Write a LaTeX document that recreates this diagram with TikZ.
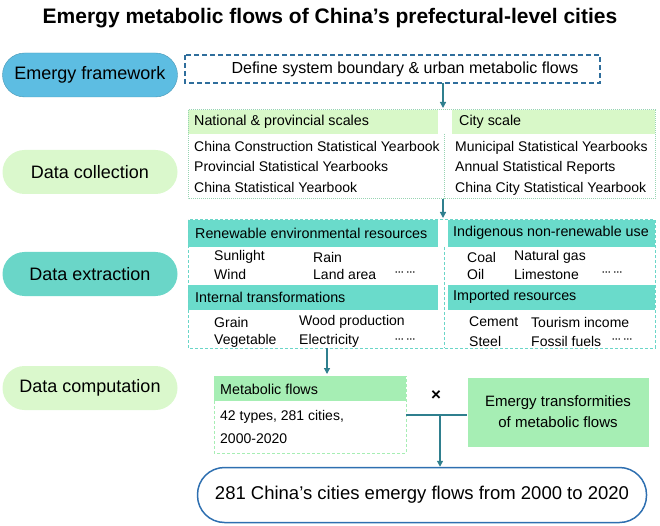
\documentclass[tikz,border=0pt]{standalone}
\usepackage{fontspec}
\setmainfont{Liberation Sans}
\usetikzlibrary{arrows.meta}
\definecolor{pillblue}{HTML}{5DBDE2}
\definecolor{pillgreen}{HTML}{DAF8CC}
\definecolor{pillteal}{HTML}{6AD6C8}
\definecolor{headteal}{HTML}{6ADBCB}
\definecolor{headgreen}{HTML}{D8F8C8}
\definecolor{boxgreen}{HTML}{A6EEB4}
\definecolor{linkteal}{HTML}{2F7F8E}
\definecolor{dashblue}{HTML}{2F6E9C}
\definecolor{ringblue}{HTML}{2E6FB0}
\tikzset{
  pill/.style={rounded corners=22pt,minimum width=175pt,minimum height=44pt,font=\fontsize{18}{21}\selectfont},
  head/.style={anchor=west,inner sep=0pt,font=\fontsize{14.3}{17}\selectfont},
  item/.style={anchor=west,inner sep=0pt,font=\fontsize{14}{17}\selectfont},
  link/.style={draw=linkteal,line width=1.3pt},
  flow/.style={link,-{Triangle[length=6pt,width=6pt]}}
}
\begin{document}
\begin{tikzpicture}[x=1pt,y=-1pt]
\useasboundingbox (0,0) rectangle (660,526);
\node[font=\bfseries\fontsize{21}{24}\selectfont] (title) at (330,18) {Emergy metabolic flows of China’s prefectural-level cities};

% stages
\node[pill,fill=pillblue,draw=pillblue!80!black] (framework) at (90,75) {Emergy framework};
\node[pill,fill=pillgreen] (collection) at (90,172) {Data collection};
\node[pill,fill=pillteal] (extraction) at (90,274) {Data extraction};
\node[pill,fill=pillgreen] (computation) at (90,388) {Data computation};

% system boundary
\draw[dashblue,line width=1.8pt,dash pattern=on 5pt off 3pt] (185,55) rectangle (600,83);
\node[item,anchor=center,font=\fontsize{16}{19}\selectfont] (boundary) at (405,69) {Define system boundary \& urban metabolic flows};

% data collection
\fill[headgreen] (188,110) rectangle (438,134);
\fill[headgreen] (452,110) rectangle (655,134);
\draw[headgreen!70!teal,densely dotted,line width=1pt] (188,110) rectangle (655,199);
\draw[headgreen!70!teal,densely dotted,line width=1pt] (444,134) -- (444,199);
\node[head] (national) at (194,122) {National \& provincial scales};
\node[head] (city) at (459,122) {City scale};
\node[item] (c1) at (194,146) {China Construction Statistical Yearbook};
\node[item] (c2) at (194,166) {Provincial Statistical Yearbooks};
\node[item] (c3) at (194,187) {China Statistical Yearbook};
\node[item] (c4) at (455,148) {Municipal Statistical Yearbooks};
\node[item] (c5) at (455,168) {Annual Statistical Reports};
\node[item] (c6) at (455,189) {China City Statistical Yearbook};

% data extraction
\fill[headteal] (188,220) rectangle (438,247);
\fill[headteal] (448,220) rectangle (655,247);
\fill[headteal] (188,285) rectangle (438,310);
\fill[headteal] (448,285) rectangle (655,310);
\draw[pillteal,densely dashed,line width=1pt] (188,220) rectangle (655,348);
\draw[pillteal,densely dashed,line width=1pt] (444,247) -- (444,348);
\node[head] (renewable) at (195,233) {Renewable environmental resources};
\node[head] (indigenous) at (453,233) {Indigenous non-renewable use};
\node[head] (internal) at (195,297) {Internal transformations};
\node[head] (imported) at (453,297) {Imported resources};
\node[item] at (214,257) {Sunlight};
\node[item] at (313,257) {Rain};
\node[item] at (214,274) {Wind};
\node[item] at (313,274) {Land area};
\node[item] at (395,274) {\fontsize{9}{9}\selectfont\bfseries ···  ···};
\node[item] at (467,257) {Coal};
\node[item] at (514,257) {Natural gas};
\node[item] at (467,274) {Oil};
\node[item] at (514,274) {Limestone};
\node[item] at (602,274) {\fontsize{9}{9}\selectfont\bfseries ···  ···};
\node[item] at (214,322) {Grain};
\node[item] at (299,322) {Wood production};
\node[item] at (214,341) {Vegetable};
\node[item] at (299,341) {Electricity};
\node[item] at (395,341) {\fontsize{9}{9}\selectfont\bfseries ···  ···};
\node[item] at (469,322) {Cement};
\node[item] at (531,322) {Tourism income};
\node[item] at (469,341) {Steel};
\node[item] at (531,341) {Fossil fuels};
\node[item] at (612,341) {\fontsize{9}{9}\selectfont\bfseries ···  ···};

% data computation
\fill[boxgreen] (214,376) rectangle (406,401);
\draw[boxgreen,densely dashed,line width=1pt] (214,376) rectangle (406,453);
\node[head] (metabolic) at (220,389) {Metabolic flows};
\node[item] (types) at (220,417) {42 types, 281 cities,};
\node[item] (years) at (220,439) {2000-2020};
\node[fill=boxgreen,minimum width=181pt,minimum height=69pt,align=center,
  font=\fontsize{15}{21}\selectfont] (transform) at (558,412) {Emergy transformities\\of metabolic flows};
\node[font=\bfseries\fontsize{17}{17}\selectfont] (times) at (436,396) {×};
\node[draw=ringblue,line width=1.5pt,rounded corners=27pt,minimum width=449pt,minimum height=55pt,
  font=\fontsize{18.5}{22}\selectfont] (result) at (422,495) {281 China’s cities emergy flows from 2000 to 2020};

% connectors
\coordinate (top) at (443,83);
\coordinate (mid) at (443,199);
\coordinate (low) at (327,348);
\coordinate (join) at (440,415);
\draw[flow] (top) -- (443,108);
\draw[flow] (mid) -- (443,218);
\draw[flow] (low) -- (327,374);
\draw[link] (406,415) -- (transform.west |- join);
\draw[flow] (join) -- (result.north -| join);
\end{tikzpicture}
\end{document}
